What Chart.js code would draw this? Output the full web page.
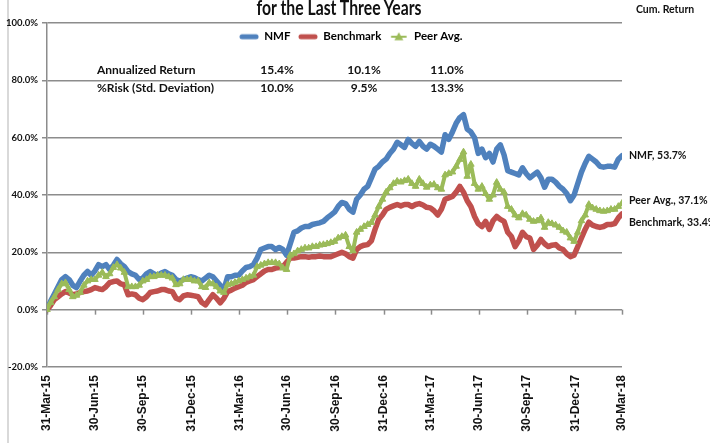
<!DOCTYPE html>
<html>
<head>
<meta charset="utf-8">
<title>Cum. Return</title>
<script src="https://cdn.jsdelivr.net/npm/chart.js@4"></script>
<style>
  html, body { margin: 0; padding: 0; background: #fff; }
  #wrap {
    position: relative; width: 710px; height: 443px; overflow: hidden;
    font-family: Lato, "Liberation Sans", Arial, sans-serif;
    font-weight: bold; color: #111;
  }
  #frame { position: absolute; left: 7px; top: 0; height: 443px; border-left: 2px solid #d9d9d9; }
  canvas { position: absolute; left: 0; top: 0; }
  .txt { position: absolute; white-space: nowrap; line-height: 16px; }
  .c { transform: translateX(-50%); }
  #title { left: 339px; top: -4px; font-size: 20px; line-height: 22px; transform-origin: 0 0; }
  #cum { left: 636px; top: 1px; font-size: 10.5px; }
</style>
</head>
<body>
<div id="wrap">
  <div id="frame"></div>
  <canvas id="grafico" width="710" height="443"></canvas>
  <div id="title" class="txt">for the Last Three Years</div>
  <div id="cum" class="txt">Cum. Return</div>
  <div id="tabla"></div>
</div>
<script>
// series (cumulative return, %), one value per week from 31-Mar-15 to 30-Mar-18
const seriesNames = ["NMF", "Benchmark", "Peer Avg."];

const nmf = [0,3,5.5,8,10.5,11.5,10.5,8.5,7.7,10,
  12,13.3,12,13.5,15.7,15,15.7,14,15.5,17.5,
  16,15,13.3,12.5,12,10.5,11,12.5,13.3,12.5,
  12,12.8,13.3,12.5,12,10.5,10,10.5,11,11.5,
  11.2,10.5,10,11,12,11.5,10,8.5,7,11.5,
  11.5,12,12,13.5,14.7,15,15.7,18,21,21.5,
  22,22,21,21.7,21,19,23,27,27.5,28.5,
  29,29,29.7,30,30.3,30.8,32,33,34,36,
  37.4,37,35,34,38.5,40,42,43,46,49,
  50,51.5,52.5,54.5,56,58.4,57.5,56.6,59.4,58,
  57,58.7,57,56,57.7,57,56,55,61,59.4,
  62,65,67,68,63,62,60,54.5,56,53,
  54.5,51.5,56,57.5,54,48.5,48,47.5,47,49.5,
  47.5,46,47,48,46,42.7,45.5,45.5,44.5,43,
  42,40.5,38,40,44,48,51,53.5,52.5,51.5,
  50,49.7,50,50,49.7,52.5,53.7];

const benchmark = [0,1.5,3.5,4.5,5.5,6.3,5.8,5.2,5.5,6,
  6.3,6.5,7,7.7,7.3,7,8,9.4,9.8,10,
  9,8.7,5.2,5.5,5.2,4,3.5,4.5,6,6.3,
  6.5,7,7,6.5,6.3,4,3.5,4.8,5.2,5,
  4.8,4.5,2.5,1.7,3.5,5.2,4,2.4,4,6.3,
  6.8,7.5,8,8.5,9.5,10,10.5,11.5,12.5,13.5,
  14,14,14.5,14.7,15,16.5,18,18,18.3,18.5,
  18.5,18.3,18.5,18.5,18.7,18.5,18.5,18.5,19,19.5,
  20,19.5,18.5,18,21,22,22.5,22.7,24,28,
  31.5,33,35,35.7,36.2,36.7,36.2,36.7,36.7,36,
  36.7,37,36.5,35.7,35.5,34.5,33,35,38.5,39,
  39.5,41,43,41,38,36,32.5,30,29,30.8,
  28,31,32.5,31.5,30.8,27,25.5,22,24,27,
  25.5,25,21,22.5,24.5,23,22,22.5,22.7,21.5,
  21,19.5,18.5,19,22,25,28,30.5,29.5,29,
  28.7,29,29.7,29.7,30,32,33.4];

const peerAvg = [0,2.5,4.5,7,9,9.4,7,4.5,5,6,
  8.5,10,10.5,10.5,12,13,11.5,12.5,14.7,15.7,
  14.5,13,8,8,8,8.5,10,10.5,11.5,11.5,
  12,12,12,11.5,11,8.7,9,10.5,10.5,10.5,
  10,10,8,7.7,9.4,9,8,6.5,6,8.7,
  9,9.5,10,10.5,11,11.5,12,15,15.5,16,
  16.4,16.4,16.4,16,14.5,14,19,19.5,20.5,21,
  21.5,21.5,22,22,22.5,22.7,23,23.4,23.8,25,
  25.5,26,22,20.5,27,28,29,29.7,30.4,33,
  36,38.5,41,42.5,44,44.8,44.5,45,45.5,44,
  43,45.5,44,42.7,43.5,43.7,42.5,42,47,47.5,
  48,50,52.4,55,46.5,50.7,44,42,43,40.5,
  38.5,40,44.4,42,41,36,35,33,32,33.5,
  33,31.5,30.8,31,32,28.7,30.4,30,29.5,28.7,
  27.5,27,25,23.8,27,31,33,36.7,35.5,35,
  34.5,34.3,34.5,35,35,36,37.1];

// x axis: days after 31-Mar-15
const spanDays = 1095;
const tickDays = [0, 91, 183, 275, 366, 457, 549, 641, 731, 822, 914, 1006, 1095];
const tickLabels = ["31-Mar-15", "30-Jun-15", "30-Sep-15", "31-Dec-15", "31-Mar-16", "30-Jun-16",
  "30-Sep-16", "31-Dec-16", "31-Mar-17", "30-Jun-17", "30-Sep-17", "31-Dec-17", "30-Mar-18"];

// y axis
const yMin = -20, yMax = 100, yStep = 20;

// little table
const tableRows = ["Annualized Return", "%Risk (Std. Deviation)"];
const annualizedReturn = [15.4, 10.1, 11.0];
const riskStdDev = [10.0, 9.5, 13.3];

const colores = ["#4F81BD", "#C0504D", "#9BBB59"];
const fuente = 'Lato, "Liberation Sans", Arial, sans-serif';

// title squeezed to the narrow width of the original
(function () {
  const t = document.getElementById("title");
  const s = 165 / t.offsetWidth;
  t.style.transform = `scaleX(${s}) translateX(-50%)`;
})();

// ---- table as html text
(function () {
  const tabla = document.getElementById("tabla");
  const rowsY = [62, 80];
  const colX = [277, 364, 447];
  [annualizedReturn, riskStdDev].forEach((vals, r) => {
    const lab = document.createElement("div");
    lab.className = "txt";
    lab.style.cssText = `left:97px;top:${rowsY[r]}px;font-size:12px`;
    lab.textContent = tableRows[r];
    tabla.appendChild(lab);
    vals.forEach((v, c) => {
      const d = document.createElement("div");
      d.className = "txt c";
      d.style.cssText = `left:${colX[c]}px;top:${rowsY[r]}px;font-size:12px`;
      d.textContent = v.toFixed(1) + "%";
      tabla.appendChild(d);
    });
  });
})();

function toPoints(arr) {
  return arr.map((v, i) => ({ x: i * spanDays / (arr.length - 1), y: v }));
}

// legend icons: thick line, and line with triangle for peer avg
function iconoLinea(color, tri) {
  const c = document.createElement("canvas");
  c.width = 20; c.height = 10;
  const g = c.getContext("2d");
  g.strokeStyle = color; g.lineWidth = tri ? 2 : 5; g.lineCap = "round";
  g.beginPath(); g.moveTo(3, 5); g.lineTo(17, 5); g.stroke();
  if (tri) {
    g.fillStyle = color;
    g.beginPath(); g.moveTo(10, 0.5); g.lineTo(14.5, 8.5); g.lineTo(5.5, 8.5); g.closePath(); g.fill();
  }
  return c;
}
const iconos = [iconoLinea(colores[0]), iconoLinea(colores[1]), iconoLinea(colores[2], true)];

const etiquetasFinales = {
  id: "etiquetasFinales",
  beforeDatasetsDraw(chart) {
    // x axis crosses at 0%: tick marks there
    const ctx = chart.ctx, xs = chart.scales.x, y0 = chart.scales.y.getPixelForValue(0);
    ctx.save();
    ctx.strokeStyle = "#8c8c8c"; ctx.lineWidth = 1.5;
    tickDays.forEach(d => {
      const px = Math.round(xs.getPixelForValue(d)) + 0.5;
      ctx.beginPath(); ctx.moveTo(px, y0); ctx.lineTo(px, y0 + 5); ctx.stroke();
    });
    ctx.restore();
  },
  afterDatasetsDraw(chart) {
    const ctx = chart.ctx;
    const dy = [0, 9, -3];
    ctx.save();
    ctx.font = "bold 10.5px " + fuente;
    ctx.fillStyle = "#111";
    ctx.textBaseline = "middle";
    chart.data.datasets.forEach((ds, i) => {
      const meta = chart.getDatasetMeta(i);
      const last = meta.data[meta.data.length - 1];
      const v = ds.data[ds.data.length - 1].y;
      ctx.fillText(ds.label + ", " + v.toFixed(1) + "%", last.x + 7, last.y + dy[i]);
    });
    ctx.restore();
  },
  afterLayout(chart) {
    // legend sits inside the plot, a little right of centre
    const lg = chart.legend;
    const dx = 351 - (lg.left + lg.right) / 2;
    const dy = 23 - lg.top;
    lg.left += dx; lg.right += dx;
    lg.top += dy; lg.bottom += dy;
  }
};

window.addEventListener("load", () => {
  const ctx = document.getElementById("grafico").getContext("2d");

  const data = {
    datasets: [
      { label: seriesNames[0], data: toPoints(nmf), borderColor: colores[0], backgroundColor: colores[0],
        borderWidth: 5.5, pointRadius: 0, borderJoinStyle: "round", borderCapStyle: "round", order: 2 },
      { label: seriesNames[1], data: toPoints(benchmark), borderColor: colores[1], backgroundColor: colores[1],
        borderWidth: 5.5, pointRadius: 0, borderJoinStyle: "round", borderCapStyle: "round", order: 1 },
      { label: seriesNames[2], data: toPoints(peerAvg), borderColor: colores[2], backgroundColor: colores[2],
        borderWidth: 4, pointStyle: "triangle", pointRadius: 3.8, pointBorderWidth: 1,
        borderJoinStyle: "round", order: 0 }
    ]
  };

  const config = {
    type: "line",
    data: data,
    options: {
      responsive: false,
      animation: false,
      layout: { padding: { top: 0, right: 88, left: 0, bottom: 0 } },
      scales: {
        x: {
          type: "linear", min: 0, max: spanDays,
          afterBuildTicks: s => { s.ticks = tickDays.map(v => ({ value: v })); },
          afterFit: s => { s.height = 76; },
          grid: { display: false, drawTicks: true, tickLength: 5 },
          border: { display: false },
          ticks: {
            autoSkip: false, maxRotation: 90, minRotation: 90, padding: 3,
            color: "#111", font: { family: '"Liberation Sans", Arial, sans-serif', size: 12, weight: "bold" },
            callback: (v, i) => tickLabels[i]
          }
        },
        y: {
          min: yMin, max: yMax,
          afterFit: s => { s.width = 47; },
          grid: { color: "#8c8c8c", lineWidth: 1.5, tickLength: 5 },
          border: { display: true, color: "#8c8c8c", width: 1.5 },
          ticks: {
            stepSize: yStep, padding: 4, color: "#111",
            font: { family: fuente, size: 9.5, weight: "bold" },
            callback: v => v.toFixed(1) + "%"
          }
        }
      },
      plugins: {
        legend: {
          position: "top",
          align: "center",
          labels: {
            usePointStyle: true, pointStyleWidth: 19, padding: 8,
            color: "#111", font: { family: fuente, size: 11.5, weight: "bold" },
            generateLabels: chart => chart.data.datasets.map((ds, i) => ({
              text: ds.label, pointStyle: iconos[i], datasetIndex: i,
              fillStyle: ds.borderColor, strokeStyle: ds.borderColor, lineWidth: 0, hidden: false
            }))
          }
        },
        tooltip: { enabled: false }
      }
    },
    plugins: [etiquetasFinales, {
      // keep the plot top at the 100% line of the original while the legend floats inside
      id: "ajusteArriba",
      afterLayout(chart) {
        if (!chart.$ajustado) {
          chart.$ajustado = true;
          chart.options.layout.padding.top = 23 - chart.chartArea.top;
          chart.update();
        }
      }
    }]
  };

  new Chart(ctx, config);
});
</script>
</body>
</html>
